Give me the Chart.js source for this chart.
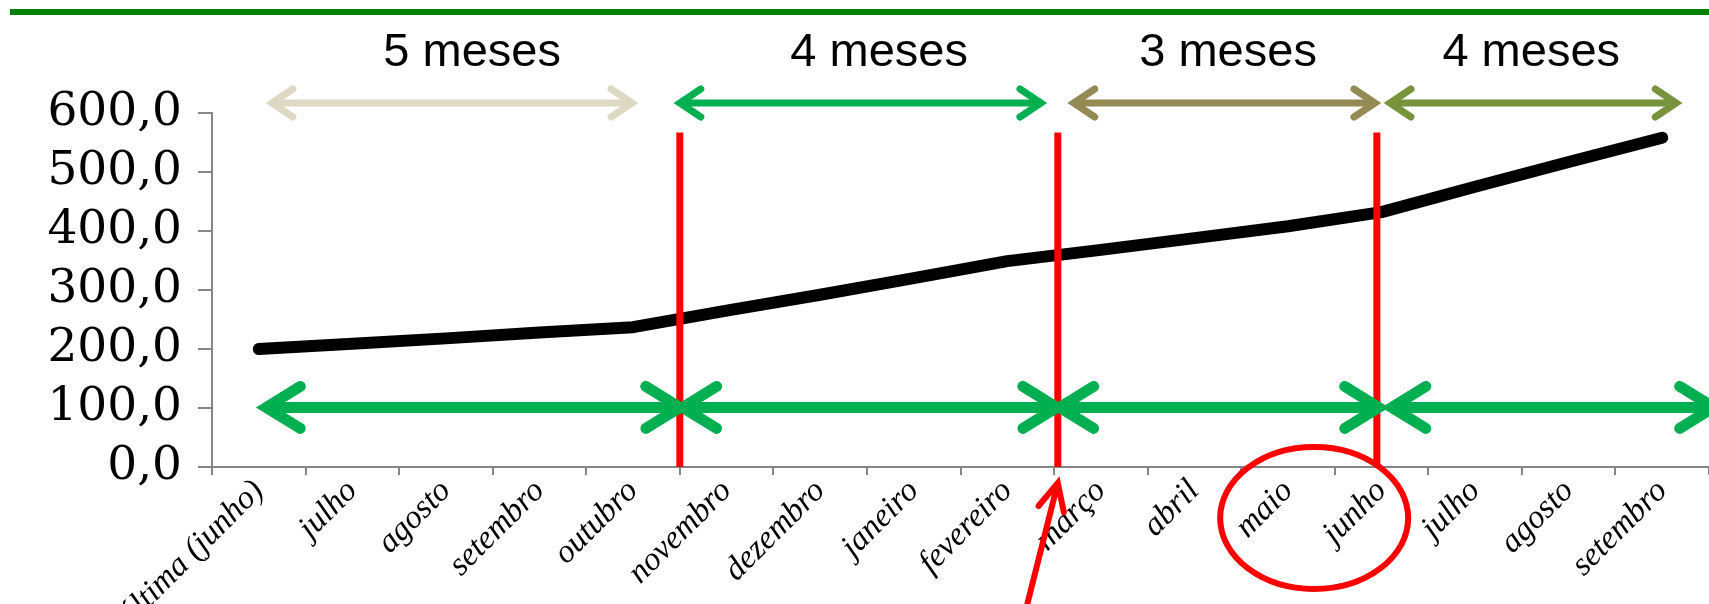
<!DOCTYPE html>
<html>
<head>
<meta charset="utf-8">
<script src="https://cdn.jsdelivr.net/npm/chart.js@4/dist/chart.umd.min.js"></script>
<style>
  html, body { margin: 0; padding: 0; background: #fff; }
  #wrap { width: 1709px; height: 604px; }
</style>
</head>
<body>
<div id="wrap"><canvas id="myChart" width="1709" height="604"></canvas></div>
<script>
// categories, values and tick labels
const months = ['última (junho)', 'julho', 'agosto', 'setembro', 'outubro', 'novembro', 'dezembro',
  'janeiro', 'fevereiro', 'março', 'abril', 'maio', 'junho', 'julho', 'agosto', 'setembro'];
const valores = [200, 209, 218, 228, 237, 265, 292, 320, 349, 368, 388, 408, 432, 475, 517, 558];
const yTicks = [0, 100, 200, 300, 400, 500, 600];
const periodos = ['5 meses', '4 meses', '3 meses', '4 meses'];

// annotation layout, in category units (0 = left edge of first month)
const topArrows = [
  { from: 0.64, to: 4.49, color: '#DDD9C3', text: 2.78 },
  { from: 5.0, to: 8.86, color: '#00B050', text: 7.13 },
  { from: 9.21, to: 12.43, color: '#948A54', text: 10.86 },
  { from: 12.59, to: 15.65, color: '#77933C', text: 14.1 }
];
const bottomArrows = [[0.58, 5.0], [5.03, 9.03], [9.06, 12.47], [12.61, 16.05]];
const redLines = [5.0, 9.04, 12.45];

function arrow(ctx, x1, x2, y, w, hx, hy, color) {
  ctx.save();
  ctx.strokeStyle = color;
  ctx.lineWidth = w;
  ctx.lineCap = 'round';
  ctx.lineJoin = 'miter';
  ctx.beginPath();
  ctx.moveTo(x1 + 2, y);
  ctx.lineTo(x2 - 2, y);
  ctx.stroke();
  ctx.beginPath();
  ctx.moveTo(x1 + hx, y - hy);
  ctx.lineTo(x1, y);
  ctx.lineTo(x1 + hx, y + hy);
  ctx.moveTo(x2 - hx, y - hy);
  ctx.lineTo(x2, y);
  ctx.lineTo(x2 - hx, y + hy);
  ctx.stroke();
  ctx.restore();
}

const anotacoes = {
  id: 'anotacoes',
  afterDraw(chart) {
    const ctx = chart.ctx;
    const x = chart.scales.x;
    const y = chart.scales.y;
    const bx = u => x.left + u * (x.right - x.left) / months.length;

    // green rule at the top
    ctx.fillStyle = '#008000';
    ctx.fillRect(10, 9, chart.width - 10, 6);

    // red dividers
    ctx.save();
    ctx.strokeStyle = '#FF0000';
    ctx.lineWidth = 7;
    redLines.forEach(u => {
      ctx.beginPath();
      ctx.moveTo(bx(u), y.getPixelForValue(567));
      ctx.lineTo(bx(u), y.getPixelForValue(0));
      ctx.stroke();
    });
    ctx.restore();

    // period arrows + labels
    const ty = y.getPixelForValue(617);
    topArrows.forEach((a, i) => {
      arrow(ctx, bx(a.from), bx(a.to), ty, 7, 21, 14, a.color);
      ctx.save();
      ctx.fillStyle = '#000';
      ctx.font = '47px "Liberation Sans", Arial, sans-serif';
      ctx.textAlign = 'center';
      ctx.textBaseline = 'middle';
      ctx.fillText(periodos[i], bx(a.text), 53);
      ctx.restore();
    });

    const by = y.getPixelForValue(101);
    bottomArrows.forEach(a => arrow(ctx, bx(a[0]), bx(a[1]), by, 11, 34, 21, '#00B050'));

    // circle around maio / junho
    ctx.save();
    ctx.strokeStyle = '#FF0000';
    ctx.lineWidth = 6;
    ctx.beginPath();
    ctx.ellipse(bx(11.78), y.bottom + 51, 94, 71, 0, 0, Math.PI * 2);
    ctx.stroke();

    // red pointer to março boundary
    const tipX = bx(9.04), tipY = y.bottom + 16;
    const tailX = tipX - 33, tailY = chart.height + 10;
    const ang = Math.atan2(tailY - tipY, tailX - tipX);
    ctx.lineWidth = 6;
    ctx.lineCap = 'round';
    ctx.beginPath();
    ctx.moveTo(tailX, tailY);
    ctx.lineTo(tipX, tipY);
    ctx.moveTo(tipX + 30 * Math.cos(ang - 0.45), tipY + 30 * Math.sin(ang - 0.45));
    ctx.lineTo(tipX, tipY);
    ctx.lineTo(tipX + 30 * Math.cos(ang + 0.45), tipY + 30 * Math.sin(ang + 0.45));
    ctx.stroke();
    ctx.restore();
  }
};

const ctx = document.getElementById('myChart').getContext('2d');
const myChart = new Chart(ctx, {
  type: 'line',
  data: {
    labels: months,
    datasets: [{
      data: valores,
      borderColor: '#000',
      borderWidth: 12,
      borderCapStyle: 'round',
      borderJoinStyle: 'round',
      pointRadius: 0,
      tension: 0,
      fill: false
    }]
  },
  options: {
    responsive: false,
    animation: false,
    devicePixelRatio: 1,
    layout: { padding: { top: 113, left: 0, right: 0, bottom: 0 } },
    plugins: { legend: { display: false }, tooltip: { enabled: false } },
    scales: {
      x: {
        offset: true,
        grid: { offset: true, drawOnChartArea: false, tickLength: 8, color: '#868686', lineWidth: 2 },
        border: { color: '#868686', width: 2 },
        ticks: {
          autoSkip: false, maxRotation: 45, minRotation: 45, padding: -3,
          color: '#000', font: { family: '"Liberation Serif", serif', size: 33, style: 'italic' }
        },
        afterFit(s) { s.height = 137; s.paddingLeft = 0; s.paddingRight = 0; }
      },
      y: {
        min: 0, max: 600,
        afterBuildTicks(s) { s.ticks = yTicks.map(v => ({ value: v })); },
        grid: { drawOnChartArea: false, tickLength: 14, color: '#868686', lineWidth: 2 },
        border: { color: '#868686', width: 2 },
        ticks: {
          autoSkip: false, padding: 16, color: '#000',
          font: { family: '"DejaVu Serif", serif', size: 47 },
          callback: v => v.toFixed(1).replace('.', ',')
        },
        afterFit(s) { s.width = 212; s.paddingTop = 0; s.paddingBottom = 0; }
      }
    }
  },
  plugins: [anotacoes]
});
</script>
</body>
</html>
